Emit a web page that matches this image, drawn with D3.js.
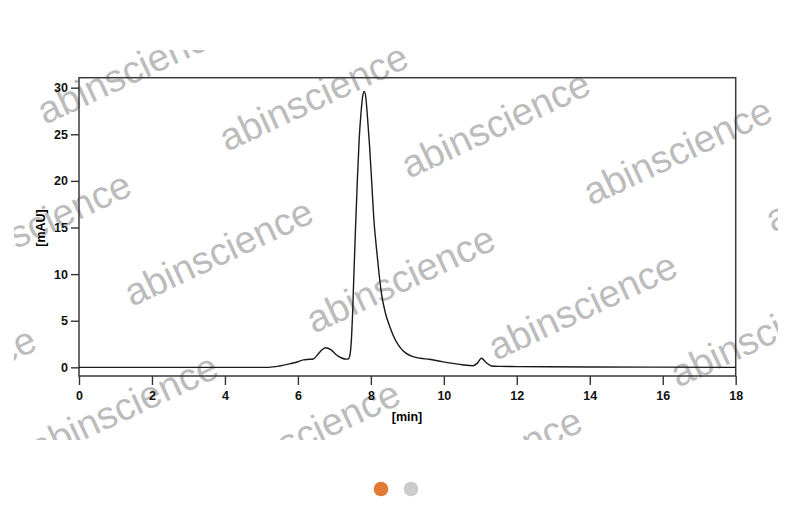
<!DOCTYPE html>
<html lang="en">
<head>
    <meta charset="UTF-8">
    <title>SEC-HPLC chromatogram</title>
    <style>
        body { margin: 0; background: #fff; }
        svg { display: block; }
        .axis text { font-family: "Liberation Sans", Arial, sans-serif; font-weight: bold; font-size: 12.5px; fill: #111; }
        .axis line { stroke: #333; stroke-width: 1.4; }
    </style>
</head>
<body>
    <div id="chart"></div>
    <script src="https://d3js.org/d3.v7.min.js"></script>
    <script>
        // retention time (min) and absorbance (mAU)
        const timeMin = [0, 5.2, 5.5, 5.8, 6.0, 6.15, 6.3, 6.42, 6.55, 6.65, 6.76, 6.9, 7.05, 7.2, 7.32, 7.38,
            7.42, 7.47, 7.5, 7.53, 7.58, 7.63, 7.68, 7.73, 7.78, 7.82, 7.86, 7.9, 7.96, 8.02, 8.08, 8.15,
            8.22, 8.29, 8.4, 8.52, 8.65, 8.79, 8.95, 9.16, 9.35, 9.6, 9.9, 10.2, 10.5, 10.8, 10.92, 11.03,
            11.15, 11.3, 11.5, 12, 14, 18];
        const absorbance = [0, 0, 0.14, 0.4, 0.6, 0.8, 0.86, 0.9, 1.4, 1.85, 2.1, 1.9, 1.35, 1.0, 0.88, 0.9,
            1.2, 3.2, 5.8, 9.4, 15, 20.1, 24.5, 27.3, 29.2, 29.6, 29.0, 27.2, 24, 20.1, 16, 12.9,
            10.2, 7.94, 5.8, 4.36, 3.1, 2.2, 1.55, 1.14, 0.97, 0.86, 0.65, 0.45, 0.28, 0.17, 0.45, 0.97,
            0.55, 0.15, 0.1, 0.08, 0.04, 0];
        const yTicks = [0, 5, 10, 15, 20, 25, 30];
        const xTicks = [0, 2, 4, 6, 8, 10, 12, 14, 16, 18];
        const watermark = "abinscience";

        const width = 800, height = 525;
        const plotLeft = 79, plotRight = 735.7, plotTop = 77.7, plotBottom = 376;
        const clip = {x0: 14, y0: 50, x1: 778, y1: 440};

        const svg = d3.select("#chart")
            .append("svg")
            .attr("width", width)
            .attr("height", height);

        const x = d3.scaleLinear().domain([0, 18]).range([plotLeft, plotRight]);
        const y = d3.scaleLinear().domain([-0.93, 31.07]).range([plotBottom, plotTop]);

        // watermark tiles, clipped to the picture area
        svg.append("clipPath")
            .attr("id", "wmclip")
            .append("rect")
            .attr("x", clip.x0).attr("y", clip.y0)
            .attr("width", clip.x1 - clip.x0).attr("height", clip.y1 - clip.y0);

        let wmPos = [];
        for (let j = -1; j <= 3; j++) {
            for (let i = -2; i <= 4; i++) {
                const sx = 227 + i * 182 - j * 95, sy = 152 + i * 27 + j * 155;
                // skip tiles that would fall (almost) completely outside the picture
                if (sx + 200 < clip.x0 || sx > clip.x1 - 4 || sy < clip.y0 + 15 || sy - 125 > clip.y1) continue;
                wmPos.push([sx, sy]);
            }
        }

        svg.append("g")
            .attr("clip-path", "url(#wmclip)")
            .selectAll("text")
            .data(wmPos)
            .enter()
            .append("text")
            .attr("transform", d => `translate(${d[0]},${d[1]}) rotate(-25)`)
            .style("font-family", "Liberation Sans, Arial, sans-serif")
            .style("font-size", "38.5px")
            .style("fill", "#bcbcbc")
            .text(watermark);

        // frame
        svg.append("rect")
            .attr("x", plotLeft).attr("y", plotTop)
            .attr("width", plotRight - plotLeft).attr("height", plotBottom - plotTop)
            .style("fill", "none")
            .style("stroke", "#3a3a3a")
            .style("stroke-width", 1.5);

        const yAxis = svg.append("g")
            .attr("class", "axis")
            .attr("transform", `translate(${plotLeft},0)`)
            .call(d3.axisLeft(y).tickValues(yTicks).tickSize(8).tickPadding(3));
        yAxis.select(".domain").remove();

        const xAxis = svg.append("g")
            .attr("class", "axis")
            .attr("transform", `translate(0,${plotBottom})`)
            .call(d3.axisBottom(x).tickValues(xTicks).tickSize(9).tickPadding(6));
        xAxis.select(".domain").remove();

        svg.append("text")
            .attr("x", 407).attr("y", 421)
            .attr("text-anchor", "middle")
            .style("font-family", "Liberation Sans, Arial, sans-serif")
            .style("font-weight", "bold")
            .style("font-size", "12.5px")
            .text("[min]");

        svg.append("text")
            .attr("transform", "translate(45,228) rotate(-90)")
            .attr("text-anchor", "middle")
            .style("font-family", "Liberation Sans, Arial, sans-serif")
            .style("font-weight", "bold")
            .style("font-size", "12.5px")
            .text("[mAU]");

        const line = d3.line()
            .x((d, i) => x(timeMin[i]))
            .y(d => y(d))
            .curve(d3.curveMonotoneX);

        svg.append("path")
            .datum(absorbance)
            .attr("d", line)
            .style("fill", "none")
            .style("stroke", "#1a1a1a")
            .style("stroke-width", 1.4);

        // carousel dots under the picture
        svg.selectAll(".dot")
            .data(["#e07a35", "#cccccc"])
            .enter()
            .append("circle")
            .attr("class", "dot")
            .attr("cx", (d, i) => 381 + i * 30)
            .attr("cy", 489)
            .attr("r", 7.3)
            .style("fill", d => d);
    </script>
</body>
</html>
